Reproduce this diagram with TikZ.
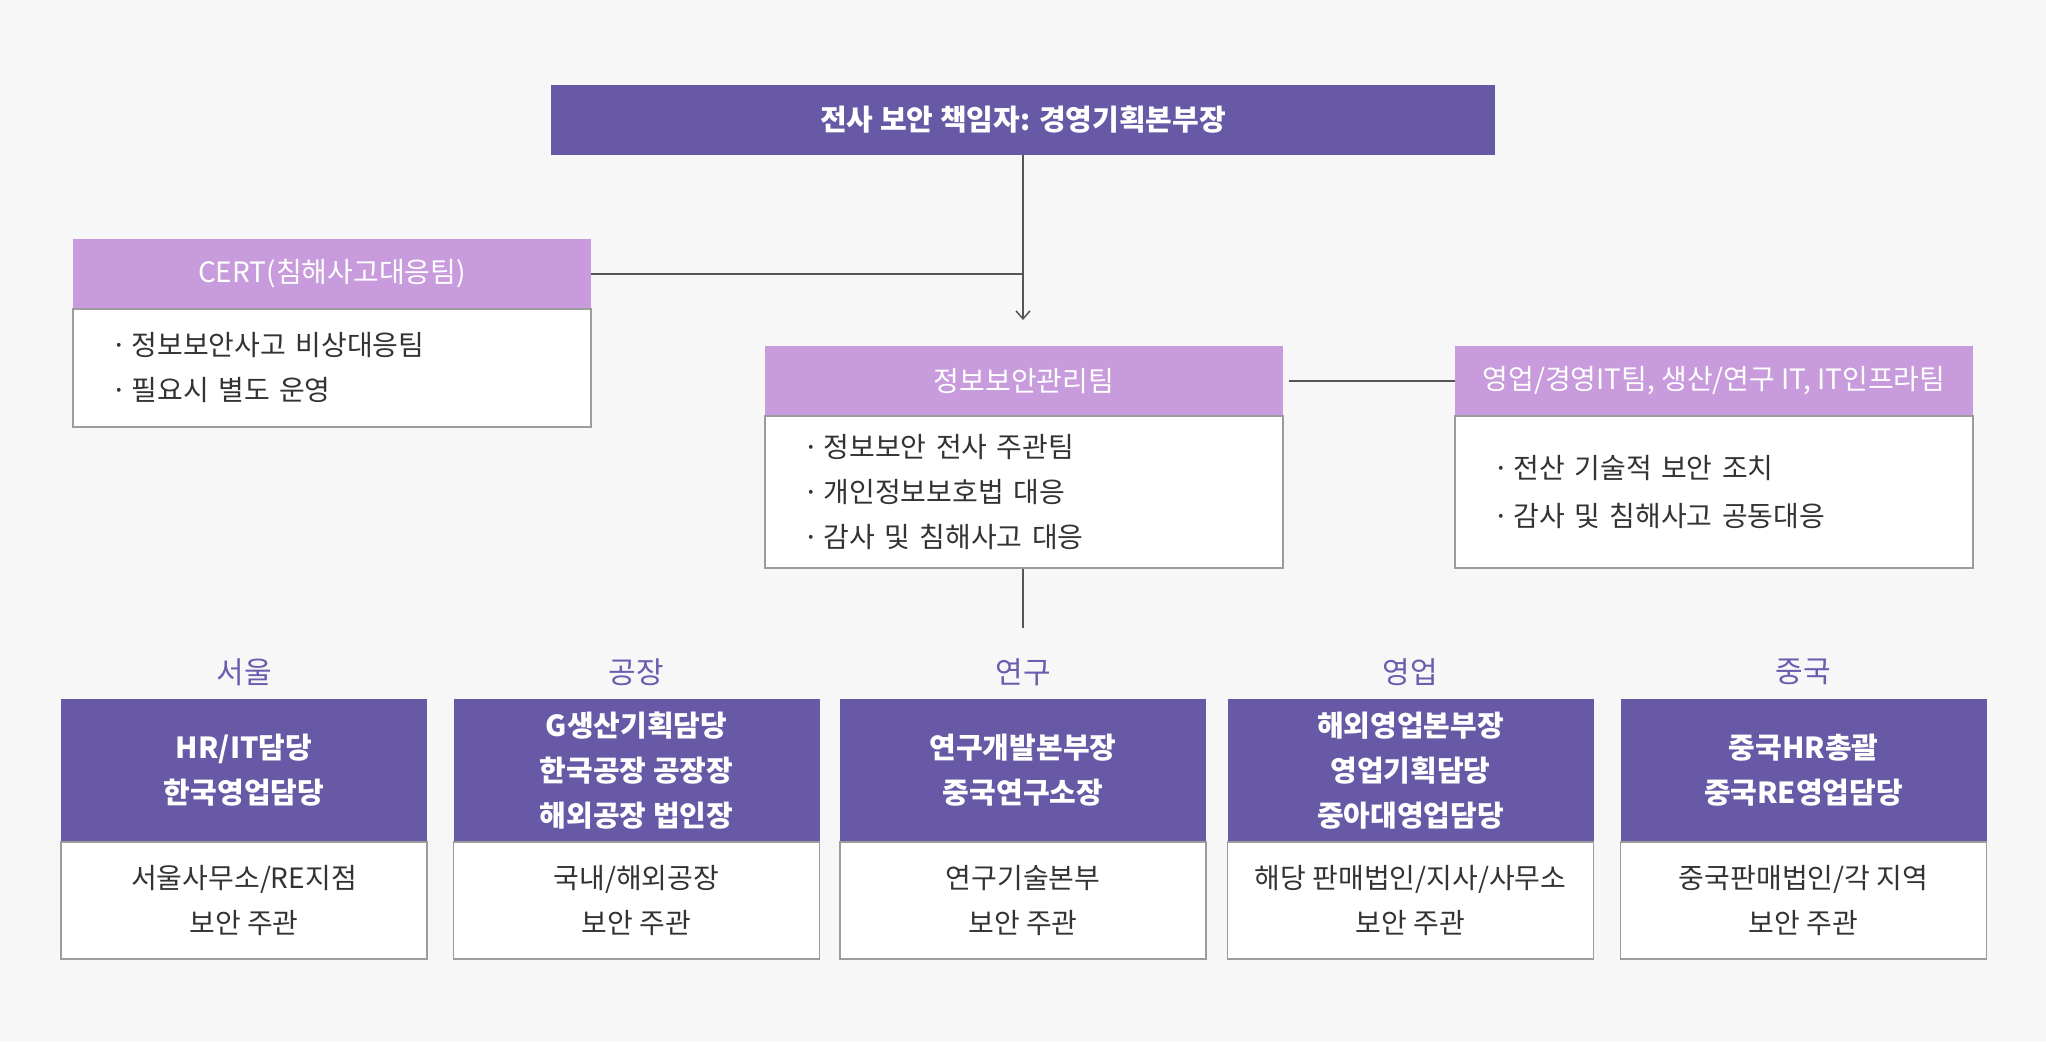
\documentclass[tikz,border=0pt]{standalone}
\usepackage{fontspec}
\setmainfont{Noto Sans CJK KR}
\usetikzlibrary{arrows.meta}
\definecolor{bgc}{HTML}{F7F7F7}
\definecolor{dpurple}{HTML}{6759A5}
\definecolor{lpurple}{HTML}{C89CDC}
\definecolor{bordc}{HTML}{9C9C9C}
\definecolor{linec}{HTML}{555555}
\definecolor{txtc}{HTML}{333333}
\definecolor{catc}{HTML}{6A5CAE}
\newcommand{\bul}{·\hspace{5pt}}
\tikzset{
  darkhead/.style={rectangle, fill=dpurple, draw=none, text=white, align=center,
    inner sep=0pt, node font={\fontsize{29}{45}\selectfont\bfseries}},
  lighthead/.style={rectangle, fill=lpurple, draw=none, text=white, align=center,
    inner sep=0pt, minimum width=518pt, minimum height=70pt,
    node font={\fontsize{28}{45}\selectfont}},
  bodybox/.style={rectangle, fill=white, draw=bordc, line width=1.5pt, text=txtc,
    align=left, inner xsep=38pt, inner ysep=0pt, text width=442pt,
    minimum width=518pt, node font={\fontsize{28}{45}\selectfont}},
  botbody/.style={rectangle, fill=white, draw=bordc, line width=1.5pt, text=txtc,
    align=center, inner sep=0pt, minimum width=366pt, minimum height=117pt,
    node font={\fontsize{28}{45}\selectfont}},
  bothead/.style={darkhead, minimum width=366pt, minimum height=143pt},
  catlabel/.style={text=catc, inner sep=0pt, node font={\fontsize{30}{34}\selectfont}},
  conn/.style={draw=linec, line width=1.5pt},
}
\begin{document}
\begin{tikzpicture}[x=1pt,y=-1pt]
\fill[bgc] (0,0) rectangle (2046,1042);
\useasboundingbox (0,0) rectangle (2046,1042);

% top
\node[darkhead, minimum width=944pt, minimum height=70pt] (top) at (1023,120) {전사 보안 책임자: 경영기획본부장};

% CERT
\node[lighthead] (certh) at (332,274) {CERT(침해사고대응팀)};
\node[bodybox, minimum height=118pt] (certb) at (332,368) {\bul 정보보안사고 비상대응팀\\\bul 필요시 별도 운영};

% middle
\node[lighthead] (mgh) at (1024,381) {정보보안관리팀};
\node[bodybox, minimum height=152pt] (mgb) at (1024,492) {\bul 정보보안 전사 주관팀\\\bul 개인정보보호법 대응\\\bul 감사 및 침해사고 대응};

% right
\node[lighthead] (rgh) at (1714,381) {영업/경영IT팀, 생산/연구 IT, IT인프라팀};
\node[bodybox, minimum height=152pt, node font={\fontsize{28}{48}\selectfont}] (rgb) at (1714,492) {\bul 전산 기술적 보안 조치\\\bul 감사 및 침해사고 공동대응};

% connectors
\coordinate (tip) at (1023,320);
\draw[conn, -{Straight Barb[length=8pt,width=14pt,line width=1.5pt]}] (top.south) -- (tip);
\draw[conn] (certh.east) -- (certh.east -| top.south);
\draw[conn] ([xshift=6pt]mgh.east) -- (rgh.west);
\coordinate (mend) at (1023,628);
\draw[conn] (mgb.south -| mend) -- (mend);

% categories
\node[catlabel] (c1) at (244,672) {서울};
\node[catlabel] (c2) at (636.5,672) {공장};
\node[catlabel] (c3) at (1023,672) {연구};
\node[catlabel] (c4) at (1410.5,672) {영업};
\node[catlabel] (c5) at (1803.5,672) {중국};

% bottom boxes
\node[bothead] (h1) at (244,770.5) {HR/IT담당\\한국영업담당};
\node[botbody] (b1) at (244,900.5) {서울사무소/RE지점\\보안 주관};
\node[bothead] (h2) at (636.5,770.5) {G생산기획담당\\한국공장 공장장\\해외공장 법인장};
\node[botbody] (b2) at (636.5,900.5) {국내/해외공장\\보안 주관};
\node[bothead] (h3) at (1023,770.5) {연구개발본부장\\중국연구소장};
\node[botbody] (b3) at (1023,900.5) {연구기술본부\\보안 주관};
\node[bothead] (h4) at (1410.5,770.5) {해외영업본부장\\영업기획담당\\중아대영업담당};
\node[botbody] (b4) at (1410.5,900.5) {해당 판매법인/지사/사무소\\보안 주관};
\node[bothead] (h5) at (1803.5,770.5) {중국HR총괄\\중국RE영업담당};
\node[botbody] (b5) at (1803.5,900.5) {중국판매법인/각 지역\\보안 주관};
\end{tikzpicture}
\end{document}
